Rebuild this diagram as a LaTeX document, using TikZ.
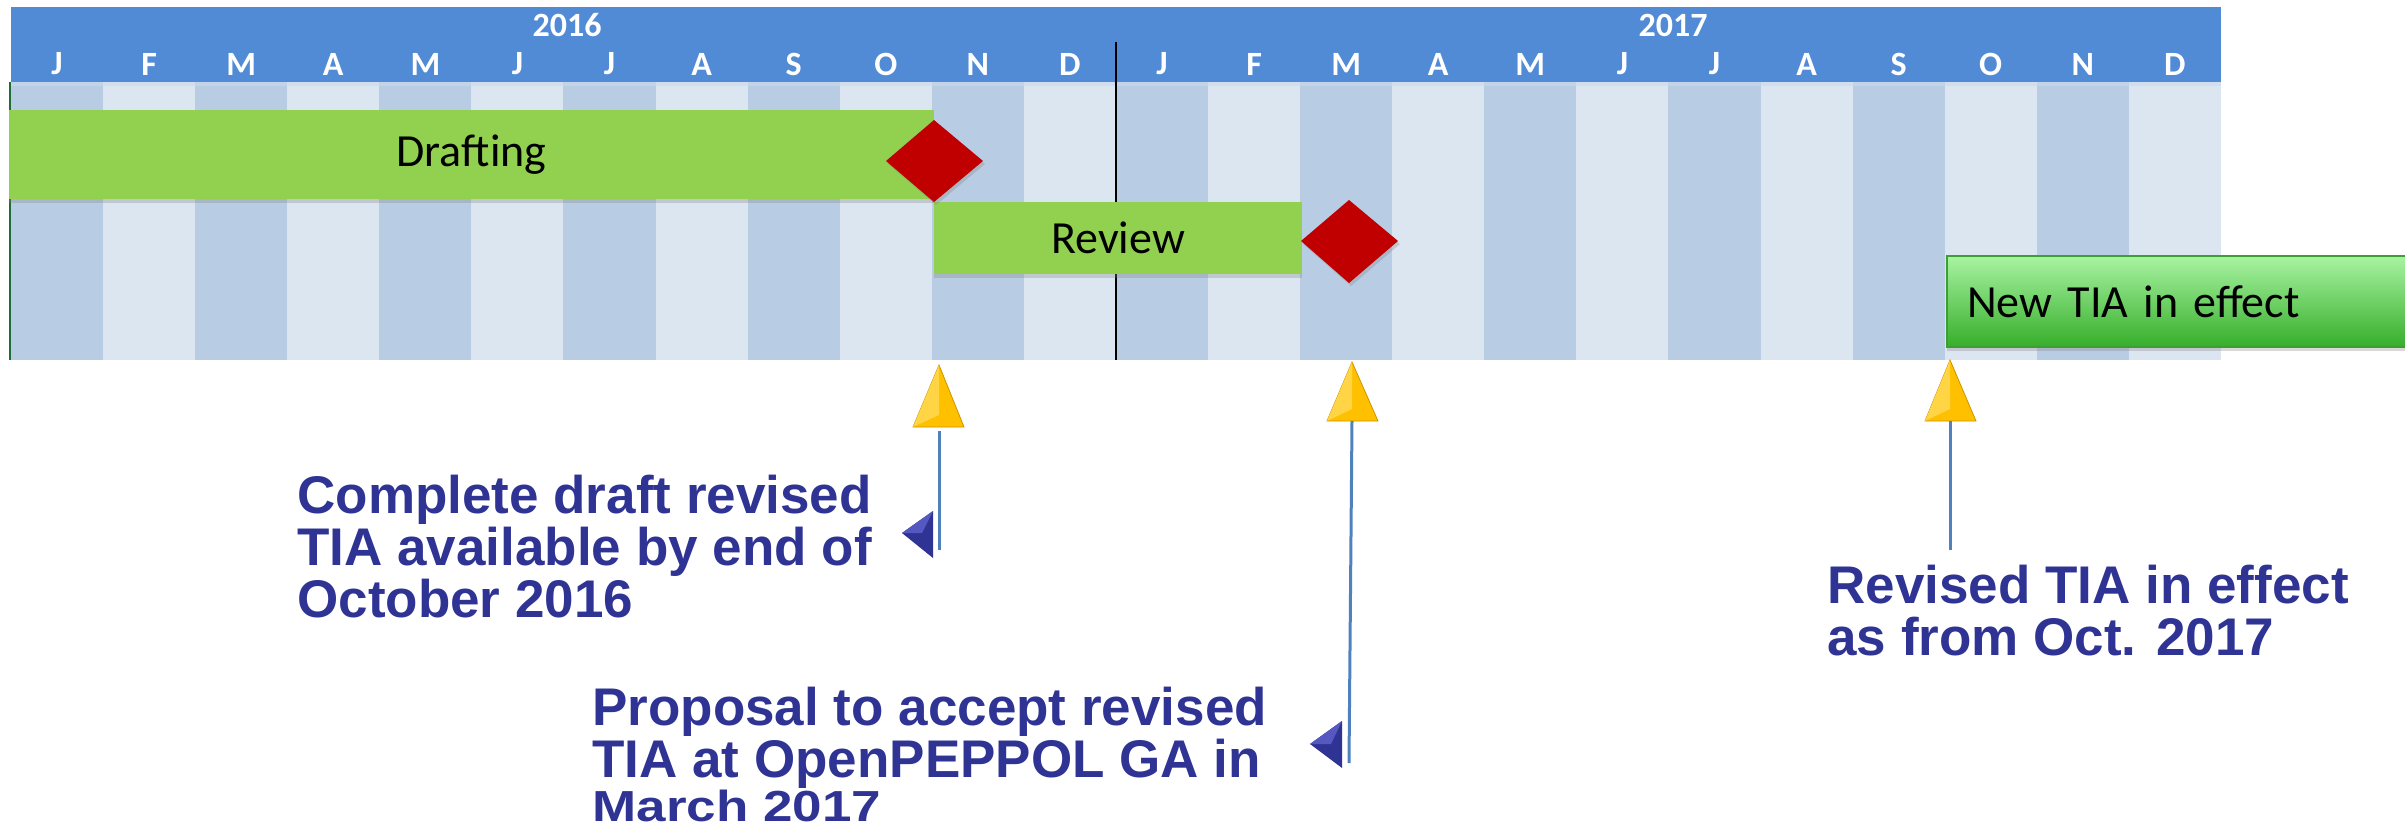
\documentclass[tikz,border=0pt]{standalone}
\usepackage{graphicx}
\usepackage{fontspec}
\setmainfont{Liberation Sans}
\newfontfamily\calib{Carlito}
\usetikzlibrary{shadows}
\definecolor{hdrBlue}{HTML}{518AD5}
\definecolor{colDark}{HTML}{B8CCE4}
\definecolor{colLight}{HTML}{DCE6F1}
\definecolor{colBand}{HTML}{CCDAEC}
\definecolor{barGreen}{HTML}{92D050}
\definecolor{msRed}{HTML}{C00000}
\definecolor{navy}{HTML}{2E3394}
\definecolor{navyLight}{HTML}{5458C0}
\definecolor{lineBlue}{HTML}{4F81BD}
\definecolor{gold}{HTML}{FFC000}
\definecolor{goldLight}{HTML}{FFD445}
\definecolor{goldEdge}{HTML}{C99400}
\definecolor{newTop}{HTML}{A8F3A2}
\definecolor{newBot}{HTML}{36AE2A}
\definecolor{newEdge}{HTML}{3E9E33}
\definecolor{leftGreen}{HTML}{1F6B3A}
\begin{document}
\begin{tikzpicture}[x=0.5pt,y=-0.5pt,
  hdr/.style={font=\calib\bfseries\fontsize{17}{18}\selectfont, text=white, inner sep=0},
  bar/.style={fill=barGreen, draw=none, inner sep=0, font=\calib\fontsize{23}{24}\selectfont,
    drop shadow={opacity=0.3, shadow xshift=0pt, shadow yshift=-2pt}},
  newbar/.style={top color=newTop, bottom color=newBot, draw=newEdge, line width=1pt,
    inner ysep=0, inner xsep=10pt, font=\calib\fontsize{23}{24}\selectfont,
    drop shadow={opacity=0.3, shadow xshift=0pt, shadow yshift=-2pt}},
  milestone/.style={fill=msRed, drop shadow={opacity=0.3, shadow xshift=1pt, shadow yshift=-1.5pt}},
  pointer/.style={fill=gold, draw=goldEdge, line width=0.4pt},
  pointerhi/.style={fill=goldLight},
  marker/.style={fill=navy},
  markerhi/.style={fill=navyLight},
  conn/.style={draw=lineBlue, line width=1.5pt},
  callout/.style={anchor=north west, inner sep=0, align=left, text=navy,
    font=\bfseries\fontsize{26.5}{25.8}\selectfont}
]
\useasboundingbox (0,0) rectangle (2405,829);
% header
\fill[hdrBlue] (11,7) rectangle (2221,82);
% month columns
\foreach \i in {0,...,23}{
  \pgfmathtruncatemacro\pp{mod(\i,2)}
  \ifnum\pp=0 \def\cc{colDark}\else\def\cc{colLight}\fi
  \fill[\cc] ({11+92.08*\i},82) rectangle ({11+92.08*(\i+1)},360);
}
\fill[colBand, opacity=0.6] (11,82) rectangle (2221,86);
\draw[leftGreen, line width=1.2pt] (10,82) -- (10,360);
% year and month labels
\node[hdr] (y16) at (567,25) {2016};
\node[hdr] (y17) at (1673,25) {2017};
\foreach \m [count=\i from 0] in {J,F,M,A,M,J,J,A,S,O,N,D,J,F,M,A,M,J,J,A,S,O,N,D}
  \node[hdr] (m\i) at ({11+92.08*(\i+0.5)},64) {\m};
% year boundary
\draw[black, line width=1pt] (1116,42) -- (1116,360);
% bars
\node[bar, minimum width=462.5pt, minimum height=44.5pt] (draft) at (471.5,154.5) {Drafting};
\node[bar, minimum width=184pt, minimum height=36pt] (review) at (1118,238) {Review};
\node[newbar, anchor=west, text width=220pt, align=left, minimum height=45.5pt] (newtia) at (1946,301.5) {New TIA in effect};
% milestones
\fill[milestone] (934,120) -- (983,161) -- (934,202) -- (886,161) -- cycle;
\fill[milestone] (1349,200) -- (1398,241) -- (1349,283) -- (1301,241) -- cycle;
% yellow pointers
\filldraw[pointer] (939,365) -- (964,427) -- (913,427) -- cycle;
\fill[pointerhi] (939,365) -- (939,415) -- (913,427) -- cycle;
\filldraw[pointer] (1352,362) -- (1378,421) -- (1327,421) -- cycle;
\fill[pointerhi] (1352,362) -- (1352,409) -- (1327,421) -- cycle;
\filldraw[pointer] (1950,360) -- (1976,421) -- (1925,421) -- cycle;
\fill[pointerhi] (1950,360) -- (1950,409) -- (1925,421) -- cycle;
% connector ends
\coordinate (p1) at (939,431);
\coordinate (e1) at (939,550);
\coordinate (p2) at (1352,421);
\coordinate (e2) at (1349,763);
\coordinate (p3) at (1950,421);
\coordinate (e3) at (1950,550);
\draw[conn] (p1) -- (e1);
\draw[conn] (p2) -- (e2);
\draw[conn] (p3) -- (e3);
% blue markers
\fill[marker] (902,533) -- (933,511) -- (933,558) -- cycle;
\fill[markerhi] (902,533) -- (933,511) -- (922,533) -- cycle;
\fill[marker] (1310,744) -- (1342,721) -- (1342,768) -- cycle;
\fill[markerhi] (1310,744) -- (1342,721) -- (1331,744) -- cycle;
% callouts
\node[callout] (c1) at (297,475) {Complete draft revised\\TIA available by end of\\October 2016};
\node[callout] (c2) at (592,687) {Proposal to accept revised\\TIA at OpenPEPPOL GA in\\[-4pt]\scalebox{1}[0.82]{March 2017}};
\node[callout] (c3) at (1827,565) {Revised TIA in effect\\as from Oct. 2017};
\end{tikzpicture}
\end{document}
